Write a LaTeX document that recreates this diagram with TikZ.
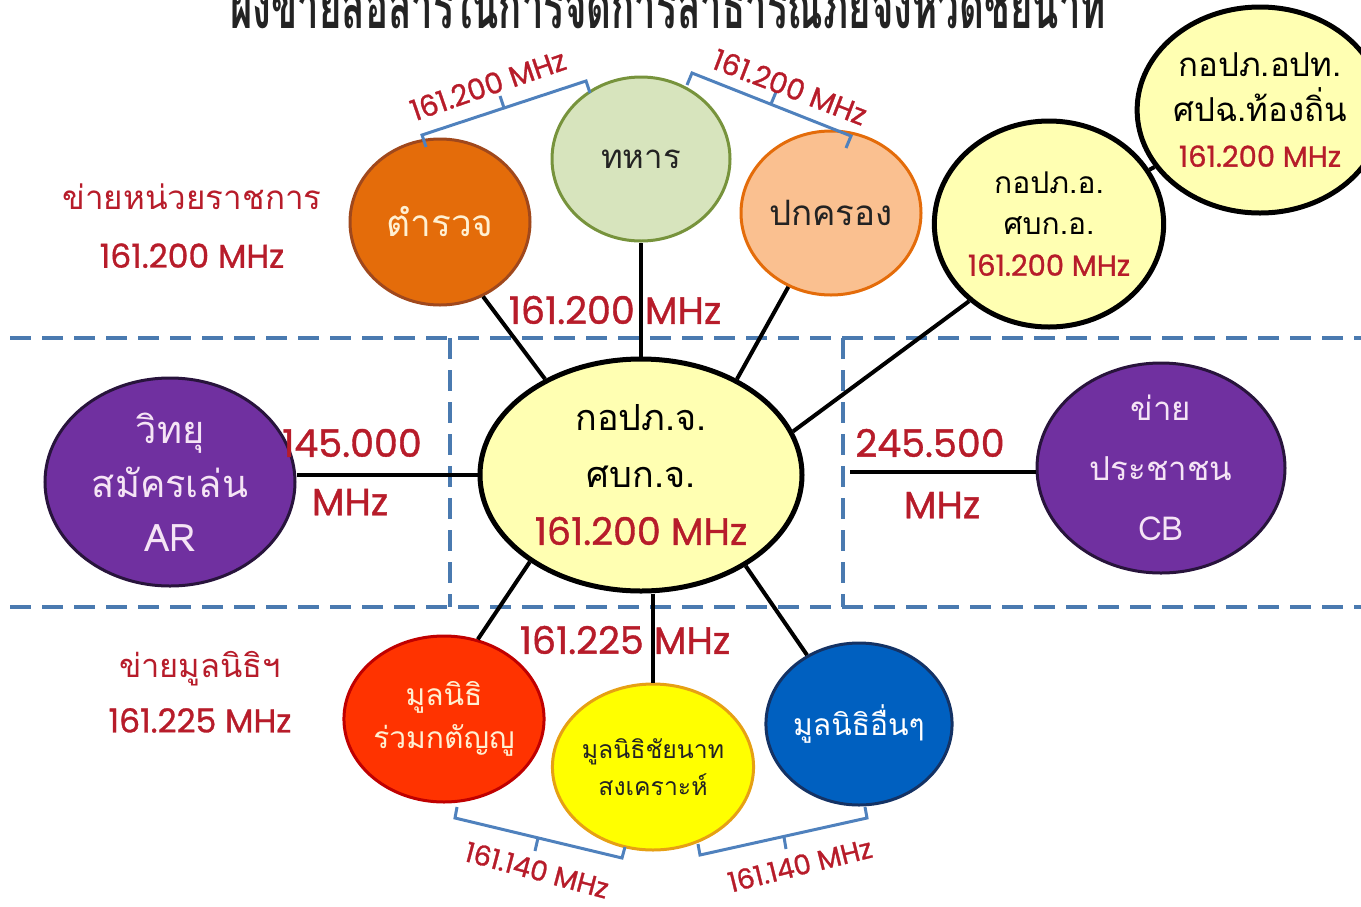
\documentclass[tikz,border=0pt]{standalone}
\usepackage{fontspec}
\setmainfont[Script=Thai]{Loma}
\newfontfamily\numfont[FakeBold=1]{Poppins}
\usetikzlibrary{shapes.geometric}

\definecolor{labred}{RGB}{183,28,42}
\definecolor{zoneblue}{RGB}{74,122,176}
\definecolor{bracecol}{RGB}{79,129,189}
\definecolor{paleyellow}{RGB}{255,255,178}
\definecolor{policefill}{RGB}{228,108,10}
\definecolor{policeline}{RGB}{160,72,28}
\definecolor{armyfill}{RGB}{215,228,189}
\definecolor{armyline}{RGB}{119,147,60}
\definecolor{adminfill}{RGB}{250,192,144}
\definecolor{adminline}{RGB}{228,108,10}
\definecolor{amateurfill}{RGB}{112,48,160}
\definecolor{amateurline}{RGB}{40,20,60}
\definecolor{rescuefill}{RGB}{255,51,0}
\definecolor{rescueline}{RGB}{192,0,0}
\definecolor{charityfill}{RGB}{255,255,0}
\definecolor{charityline}{RGB}{230,160,20}
\definecolor{otherfill}{RGB}{0,96,192}
\definecolor{otherline}{RGB}{20,50,100}
\definecolor{creamtext}{RGB}{255,240,210}
\definecolor{pinktext}{RGB}{245,228,245}
\definecolor{darktext}{RGB}{35,35,35}

\begin{document}
\begin{tikzpicture}[
    x=0.5pt, y=-0.5pt,
    bubble/.style={ellipse, draw=#1, line width=1.5pt, align=center, inner sep=0pt},
    bubble/.default=black,
    hub/.style={bubble, fill=paleyellow, line width=2.5pt},
    link/.style={line width=2pt, draw=black},
    zone/.style={draw=zoneblue, line width=2pt, dash pattern=on 10.5pt off 5.5pt},
    brace/.style={draw=bracecol, line width=1.5pt},
    freq/.style={text=labred, font=\numfont\fontsize{19}{22}\selectfont},
    bandfreq/.style={text=labred, font=\numfont\fontsize{14.5}{16}\selectfont},
    netlbl/.style={text=labred, align=center},
  ]
    \useasboundingbox (0,0) rectangle (1361,906);
    \clip (0,0) rectangle (1361,906);

    % --- Title (cut by the top edge) ---
    \node[font=\bfseries\fontsize{32}{32}\selectfont, xscale=0.6, anchor=base, text=darktext] (title) at (668,28)
      {ผังข่ายสื่อสารในการจัดการสาธารณภัยจังหวัดชัยนาท};

    % --- Zones ---
    \draw[zone] (10,338) -- (1361,338);
    \draw[zone] (10,607) -- (1361,607);
    \draw[zone] (450,338) -- (450,607);
    \draw[zone] (843,338) -- (843,607);

    % --- Hub ---
    \node[hub, minimum width=161pt, minimum height=116pt, font=\fontsize{18}{28.5}\selectfont] (centre) at (641,475)
      {กอปภ.จ.\\ศบก.จ.\\{\numfont\fontsize{19}{28.5}\selectfont\color{labred}161.200 MHz}};

    % --- Government network ---
    \node[bubble=policeline, fill=policefill, minimum width=90pt, minimum height=83pt, text=creamtext,
          font=\fontsize{18.5}{20}\selectfont] (police) at (440,222) {ตำรวจ};
    \node[bubble=armyline, fill=armyfill, minimum width=89pt, minimum height=82pt, text=darktext,
          font=\fontsize{16.5}{20}\selectfont] (army) at (641,159) {ทหาร};
    \node[bubble=adminline, fill=adminfill, minimum width=90pt, minimum height=82pt, text=darktext,
          font=\fontsize{17.5}{20}\selectfont] (admin) at (831,213) {ปกครอง};
    \node[hub, minimum width=108pt, minimum height=103pt, font=\fontsize{15}{20.5}\selectfont] (district) at (1049,224)
      {กอปภ.อ.\\ศบก.อ.\\{\numfont\fontsize{14.5}{20.5}\selectfont\color{labred}161.200 MHz}};
    \node[hub, minimum width=100pt, minimum height=103pt, font=\fontsize{16.5}{22.5}\selectfont] (local) at (1260,110)
      {กอปภ.อปท.\\ศปฉ.ท้องถิ่น\\{\numfont\fontsize{14.5}{22.5}\selectfont\color{labred}161.200 MHz}};

    % --- Side networks ---
    \node[bubble=amateurline, fill=amateurfill, minimum width=125pt, minimum height=104pt, text=pinktext,
          font=\fontsize{19}{27}\selectfont] (ar) at (170,482) {วิทยุ\\สมัครเล่น\\AR};
    \node[bubble=amateurline, fill=amateurfill, minimum width=124pt, minimum height=105pt, text=pinktext,
          font=\fontsize{16.5}{30}\selectfont] (cb) at (1161,468) {ข่าย\\ประชาชน\\CB};

    % --- Foundation network ---
    \node[bubble=rescueline, fill=rescuefill, minimum width=91pt, minimum height=83pt, text=creamtext,
          font=\fontsize{15}{21.5}\selectfont] (rescue) at (444,719) {มูลนิธิ\\ร่วมกตัญญู};
    \node[bubble=charityline, fill=charityfill, minimum width=90pt, minimum height=83pt, text=darktext,
          font=\fontsize{12.4}{18.5}\selectfont] (charity) at (653,767) {มูลนิธิชัยนาท\\สงเคราะห์};
    \node[bubble=otherline, fill=otherfill, minimum width=89pt, minimum height=81pt, text=white,
          font=\fontsize{15}{20}\selectfont] (other) at (859,724) {มูลนิธิอื่นๆ};

    % --- Network labels ---
    \node[netlbl, font=\fontsize{16.6}{29}\selectfont] (govnet) at (192,226)
      {ข่ายหน่วยราชการ\\{\numfont\fontsize{16.5}{29}\selectfont 161.200 MHz}};
    \node[netlbl, font=\fontsize{16.3}{27.5}\selectfont] (fdnnet) at (200,692)
      {ข่ายมูลนิธิฯ\\{\numfont\fontsize{16.5}{27.5}\selectfont 161.225 MHz}};

    % --- Links ---
    \draw[link] (centre.135) -- (police.-60);
    \draw[link] (centre.north) -- (army.south);
    \draw[link] (centre.45) -- (admin.240);
    \draw[link] (centre.16) -- (district.224);
    \draw[link] (district) -- (local);
    \draw[link] (centre.west) -- (centre.west -| ar.east);
    \coordinate (cbtap) at (850,472);
    \draw[link] (cbtap) -- (cbtap -| cb.west);
    \draw[link] (centre.218) -- (rescue.67);
    \draw[link] (charity.north) -- (charity.north |- centre.south);
    \draw[link] (centre.-41) -- (other.127);

    % --- Frequencies on links ---
    \node[freq] (govfreq) at (615,310) {161.200 MHz};
    \node[freq] (fdnfreq) at (625,640) {161.225 MHz};
    \node[freq] (arfreq) at (352,443) {145.000};
    \node[freq] (armhz) at (350,502) {MHz};
    \node[freq] (cbfreq) at (930,443) {245.500};
    \node[freq] (cbmhz) at (942,505) {MHz};

    % --- Brackets ---
    \draw[brace] (426,147) -- (422,135) -- (586,81) -- (590,93);
    \draw[brace] (504,108) -- (500,96);
    \draw[brace] (687,85) -- (692,73) -- (851,136) -- (846,148);
    \draw[brace] (771,104) -- (776,92);
    \draw[brace] (457,807) -- (455,818) -- (622,858) -- (625,847);
    \draw[brace] (538,838) -- (535,851);
    \draw[brace] (698,844) -- (700,855) -- (867,818) -- (865,807);
    \draw[brace] (784,837) -- (786,849);
    \node[bandfreq, rotate=19] (policeband) at (488,85) {161.200 MHz};
    \node[bandfreq, rotate=-21] (adminband) at (790,87) {161.200 MHz};
    \node[bandfreq, font=\numfont\fontsize{13.8}{15}\selectfont, rotate=-15] (rescueband) at (537,870) {161.140 MHz};
    \node[bandfreq, font=\numfont\fontsize{13.8}{15}\selectfont, rotate=14] (otherband) at (800,865) {161.140 MHz};
\end{tikzpicture}
\end{document}
